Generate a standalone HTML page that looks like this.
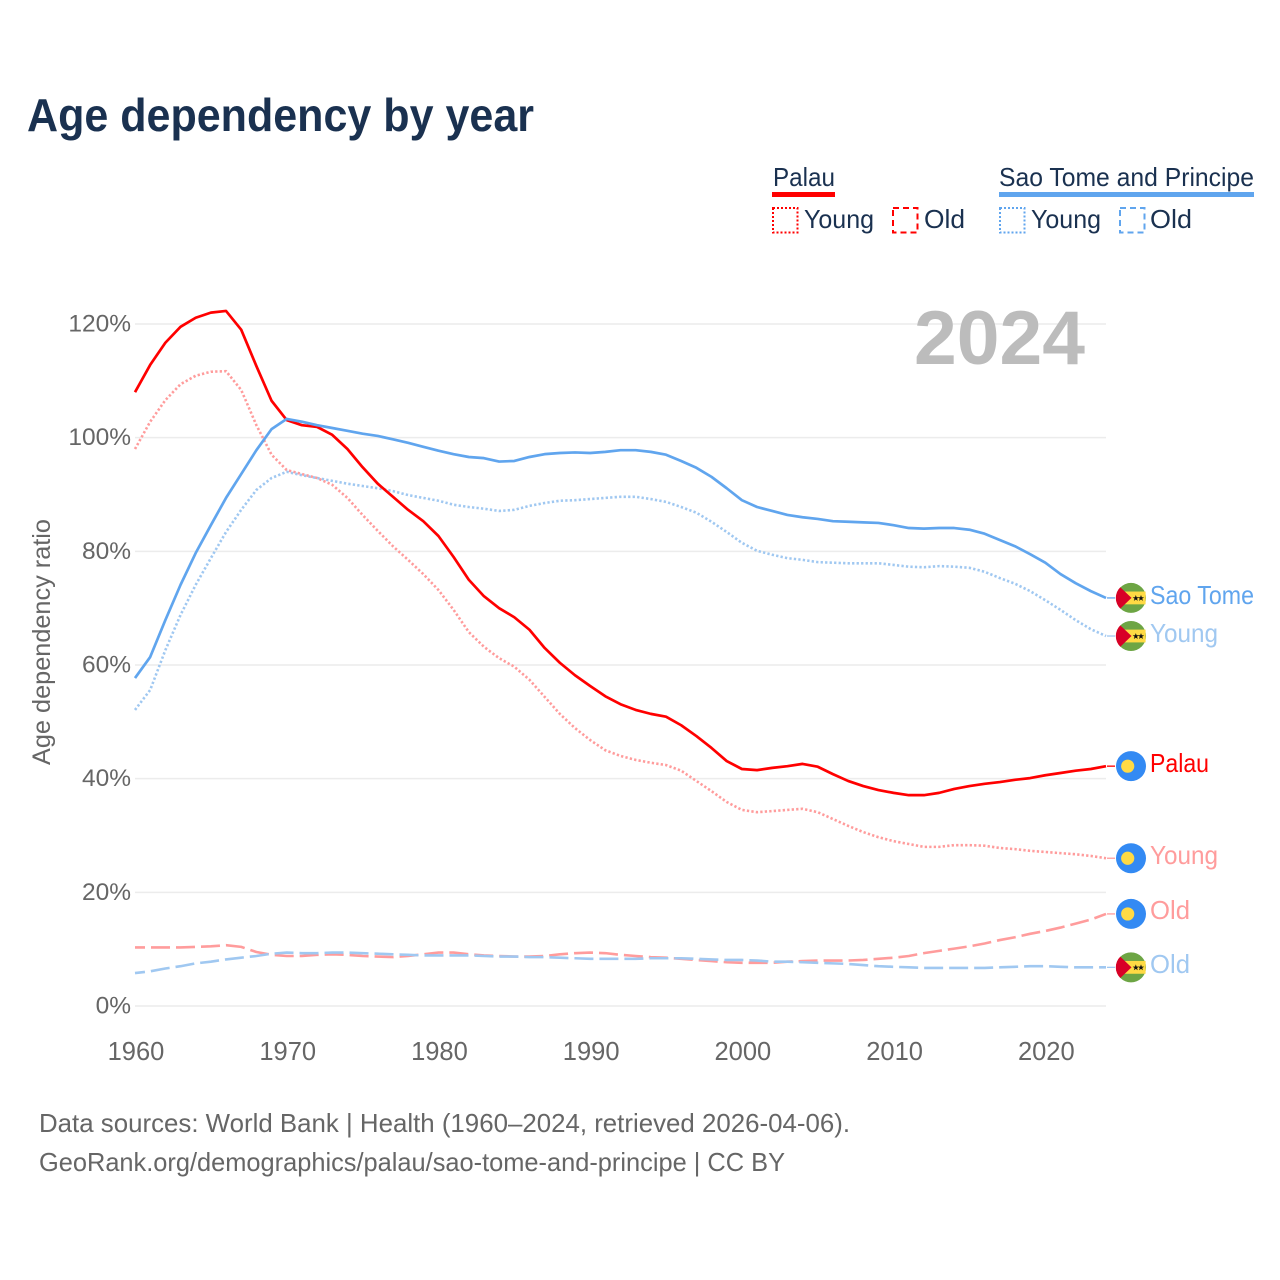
<!DOCTYPE html>
<html lang="en">
<head>
<meta charset="utf-8">
<title>Age dependency by year</title>
<style>
html,body{margin:0;padding:0;background:#fff;}
svg{display:block;font-family:"Liberation Sans",sans-serif;}
</style>
</head>
<body>
<svg id="chart" width="1280" height="1280" viewBox="0 0 1280 1280" xmlns="http://www.w3.org/2000/svg">
  <defs>
    <symbol id="flag-stp" viewBox="-15 -15 30 30" overflow="visible">
      <circle r="15" fill="#6da544"/>
      <rect x="-14" y="-6.4" width="28.6" height="12.8" fill="#ffda44"/>
      <path d="M0.5,0 L-10.7,-10.7 A15 15 0 0 0 -10.7,10.7 Z" fill="#d80027"/>
      <polygon transform="translate(4.8,0.3) scale(1.15)" points="0,-2.8 0.7,-0.9 2.7,-0.9 1.1,0.3 1.7,2.3 0,1.1 -1.7,2.3 -1.1,0.3 -2.7,-0.9 -0.7,-0.9" fill="#111"/>
      <polygon transform="translate(10,0.3) scale(1.15)" points="0,-2.8 0.7,-0.9 2.7,-0.9 1.1,0.3 1.7,2.3 0,1.1 -1.7,2.3 -1.1,0.3 -2.7,-0.9 -0.7,-0.9" fill="#111"/>
    </symbol>
    <symbol id="flag-plw" viewBox="-15 -15 30 30" overflow="visible">
      <circle r="15" fill="#338af3"/>
      <circle cx="-3.3" cy="0" r="6.6" fill="#ffda44"/>
    </symbol>
  </defs>

  <text x="27" y="131" font-size="46" font-weight="700" fill="#1a3150" textLength="507" lengthAdjust="spacingAndGlyphs">Age dependency by year</text>

  <g font-size="26" fill="#1a3150">
    <g>
      <text x="773" y="186" textLength="62" lengthAdjust="spacingAndGlyphs">Palau</text>
      <rect x="772" y="192" width="63" height="5" fill="#ff0000"/>
      <rect x="773" y="208" width="24.5" height="24.5" fill="none" stroke="#ff0000" stroke-width="2" stroke-dasharray="2 2"/>
      <text x="804" y="228" textLength="70" lengthAdjust="spacingAndGlyphs">Young</text>
      <rect x="893" y="208" width="24.5" height="24.5" fill="none" stroke="#ff0000" stroke-width="2" stroke-dasharray="6 4"/>
      <text x="924" y="228" textLength="41" lengthAdjust="spacingAndGlyphs">Old</text>
    </g>
    <g>
      <text x="999" y="186" textLength="255" lengthAdjust="spacingAndGlyphs">Sao Tome and Principe</text>
      <rect x="999" y="192" width="255" height="5" fill="#60a5ee"/>
      <rect x="1000" y="208" width="24.5" height="24.5" fill="none" stroke="#60a5ee" stroke-width="2" stroke-dasharray="2 2"/>
      <text x="1031" y="228" textLength="70" lengthAdjust="spacingAndGlyphs">Young</text>
      <rect x="1120" y="208" width="24.5" height="24.5" fill="none" stroke="#60a5ee" stroke-width="2" stroke-dasharray="6 4"/>
      <text x="1150" y="228" textLength="42" lengthAdjust="spacingAndGlyphs">Old</text>
    </g>
  </g>

  <g id="grid"></g>
  <text x="914" y="364" font-size="76" font-weight="700" fill="#bcbcbc" textLength="171" lengthAdjust="spacingAndGlyphs">2024</text>
  <g id="y-ticks" font-size="24.5" fill="#666" text-anchor="end"></g>
  <g id="x-ticks" font-size="25.5" fill="#666" text-anchor="middle"></g>
  <text transform="translate(50,642) rotate(-90)" font-size="25" fill="#666" text-anchor="middle" textLength="246" lengthAdjust="spacingAndGlyphs">Age dependency ratio</text>

  <g id="series"></g>
  <g id="ends"></g>

  <g font-size="26" fill="#666">
    <text x="39" y="1132" textLength="811" lengthAdjust="spacingAndGlyphs">Data sources: World Bank | Health (1960–2024, retrieved 2026-04-06).</text>
    <text x="39" y="1171" textLength="746" lengthAdjust="spacingAndGlyphs">GeoRank.org/demographics/palau/sao-tome-and-principe | CC BY</text>
  </g>
</svg>
<script>
const startYear = 1960;
const endYear = 2024;
const xTickYears = [1960, 1970, 1980, 1990, 2000, 2010, 2020];
const yTickValues = [0, 20, 40, 60, 80, 100, 120];

const palauTotal = [108.0,112.8,116.7,119.5,121.1,122.0,122.3,119.0,112.6,106.5,103.1,102.2,101.9,100.5,98.0,94.8,91.9,89.6,87.3,85.3,82.7,79.0,75.0,72.1,70.0,68.4,66.2,63.0,60.4,58.2,56.3,54.5,53.1,52.1,51.4,50.9,49.4,47.5,45.4,43.1,41.7,41.5,41.9,42.2,42.6,42.1,40.8,39.6,38.7,38.0,37.5,37.1,37.1,37.5,38.2,38.7,39.1,39.4,39.8,40.1,40.6,41.0,41.4,41.7,42.2];
const palauYoung = [98.0,102.8,106.6,109.4,110.9,111.6,111.7,108.4,102.2,97.0,94.3,93.6,92.9,91.7,89.4,86.4,83.6,80.9,78.5,76.0,73.2,69.7,65.8,63.2,61.2,59.7,57.4,54.4,51.4,48.9,46.8,45.0,44.0,43.3,42.8,42.4,41.4,39.6,37.8,35.9,34.5,34.1,34.3,34.5,34.7,34.1,32.9,31.7,30.6,29.7,29.0,28.5,28.0,28.0,28.3,28.3,28.2,27.8,27.6,27.3,27.1,26.9,26.7,26.4,26.0];
const palauOld = [10.3,10.3,10.3,10.3,10.4,10.5,10.7,10.4,9.5,9.0,8.8,8.8,9.0,9.1,9.0,8.8,8.7,8.6,8.8,9.1,9.4,9.4,9.1,8.9,8.8,8.7,8.7,8.8,9.1,9.3,9.4,9.3,9.0,8.8,8.6,8.5,8.3,8.1,7.9,7.7,7.6,7.6,7.6,7.8,7.9,8.0,8.0,8.0,8.1,8.3,8.5,8.8,9.3,9.7,10.1,10.5,11.0,11.6,12.1,12.7,13.2,13.8,14.5,15.2,16.2];
const stpTotal = [57.7,61.4,67.9,74.1,79.7,84.6,89.4,93.6,97.8,101.5,103.3,102.8,102.2,101.7,101.2,100.7,100.3,99.7,99.1,98.4,97.7,97.1,96.6,96.4,95.8,95.9,96.6,97.1,97.3,97.4,97.3,97.5,97.8,97.8,97.5,97.0,95.9,94.7,93.1,91.1,89.0,87.8,87.1,86.4,86.0,85.7,85.3,85.2,85.1,85.0,84.6,84.1,84.0,84.1,84.1,83.8,83.1,82.0,80.9,79.5,78.0,76.0,74.4,73.0,71.8];
const stpYoung = [52.1,55.6,62.6,68.8,74.1,78.8,83.4,87.3,90.8,92.9,94.0,93.4,92.9,92.4,91.9,91.5,91.1,90.6,89.9,89.4,88.9,88.2,87.8,87.5,87.1,87.3,88.0,88.5,88.9,89.0,89.2,89.4,89.6,89.6,89.2,88.7,87.8,86.8,85.2,83.4,81.5,80.1,79.4,78.8,78.5,78.1,78.0,77.9,77.9,77.9,77.6,77.3,77.2,77.4,77.3,77.1,76.4,75.3,74.3,73.0,71.4,69.7,67.9,66.3,65.1];
const stpOld = [5.8,6.1,6.6,7.0,7.5,7.8,8.2,8.5,8.8,9.2,9.4,9.3,9.3,9.4,9.4,9.3,9.2,9.1,9.0,8.9,8.9,8.9,8.9,8.8,8.7,8.7,8.6,8.6,8.5,8.4,8.3,8.3,8.3,8.3,8.4,8.4,8.4,8.3,8.2,8.1,8.1,8.0,7.8,7.8,7.7,7.6,7.5,7.4,7.2,7.0,6.9,6.8,6.7,6.7,6.7,6.7,6.7,6.8,6.9,7.0,7.0,6.9,6.8,6.8,6.8];

const NS = 'http://www.w3.org/2000/svg';
function x(year) { return 135 + (year - startYear) * (1106 - 135) / (endYear - startYear); }
function y(value) { return 1006 - value * (1006 - 324) / 120; }
function make(tag, parent) {
  const el = document.createElementNS(NS, tag);
  parent.appendChild(el);
  return el;
}

const grid = document.getElementById('grid');
const yTicks = document.getElementById('y-ticks');
const xTicks = document.getElementById('x-ticks');
yTickValues.forEach(function (v) {
  const line = make('line', grid);
  
  
  line.setAttribute('x1', 135);
  line.setAttribute('x2', 1106);
  line.setAttribute('y1', y(v));
  line.setAttribute('y2', y(v));
  line.setAttribute('stroke', '#ececec');
  line.setAttribute('stroke-width', 1.5);
  const t = make('text', yTicks);
  
  
  t.setAttribute('x', 131);
  t.setAttribute('y', y(v) + 7.5);
  t.textContent = v + '%';
});
xTickYears.forEach(function (yr) {
  const t = make('text', xTicks);
  
  
  t.setAttribute('x', x(yr) + 1);
  t.setAttribute('y', 1060);
  t.textContent = yr;
});

const seriesGroup = document.getElementById('series');
const endsGroup = document.getElementById('ends');

function drawSeries(values, name, color, width, dash, offset) {
  const p = make('polyline', seriesGroup);
  
  
  p.setAttribute('points', values.map(function (v, i) { return x(startYear + i).toFixed(2) + ',' + y(v).toFixed(2); }).join(' '));
  p.setAttribute('fill', 'none');
  p.setAttribute('stroke', color);
  p.setAttribute('stroke-width', width);
  p.setAttribute('stroke-linejoin', 'round');
  if (dash) {
    p.setAttribute('stroke-dasharray', dash);
    p.setAttribute('stroke-dashoffset', offset || 0);
  }
}

function drawEnd(values, name, color, flag, label, labelLen, labelY) {
  const last = y(values[values.length - 1]);
  const c = make('line', endsGroup);
  
  
  c.setAttribute('x1', 1107);
  c.setAttribute('x2', 1115);
  c.setAttribute('y1', last);
  c.setAttribute('y2', last);
  c.setAttribute('stroke', color);
  c.setAttribute('stroke-width', 1.3);
  const u = make('use', endsGroup);
  
  
  u.setAttribute('href', '#' + flag);
  u.setAttribute('x', 1116);
  u.setAttribute('y', last - 15);
  u.setAttribute('width', 30);
  u.setAttribute('height', 30);
  const t = make('text', endsGroup);
  
  
  t.setAttribute('x', 1150);
  t.setAttribute('y', labelY);
  t.setAttribute('font-size', 26);
  t.setAttribute('fill', color);
  t.setAttribute('textLength', labelLen);
  t.setAttribute('lengthAdjust', 'spacingAndGlyphs');
  t.textContent = label;
}

const RED = '#ff0000', BLUE = '#60a5ee', PINK = '#ff9c9c', SKY = '#a0c8f1';

drawSeries(palauOld, 'palau-old', PINK, 2.6, '19 6', 9);
drawSeries(stpOld, 'sao-tome-old', SKY, 2.6, '19 6', 9);
drawSeries(palauYoung, 'palau-young', PINK, 2.6, '2.3 2.2', 0);
drawSeries(stpYoung, 'sao-tome-young', SKY, 2.6, '2.3 2.2', 0);
drawSeries(palauTotal, 'palau-total', RED, 2.7);
drawSeries(stpTotal, 'sao-tome-total', BLUE, 2.7);

drawEnd(stpTotal, 'sao-tome-total', BLUE, 'flag-stp', 'Sao Tome', 104, 604);
drawEnd(stpYoung, 'sao-tome-young', SKY, 'flag-stp', 'Young', 68, 642);
drawEnd(palauTotal, 'palau-total', RED, 'flag-plw', 'Palau', 59, 772);
drawEnd(palauYoung, 'palau-young', PINK, 'flag-plw', 'Young', 68, 864);
drawEnd(palauOld, 'palau-old', PINK, 'flag-plw', 'Old', 40, 919);
drawEnd(stpOld, 'sao-tome-old', SKY, 'flag-stp', 'Old', 40, 973);
</script>
</body>
</html>
